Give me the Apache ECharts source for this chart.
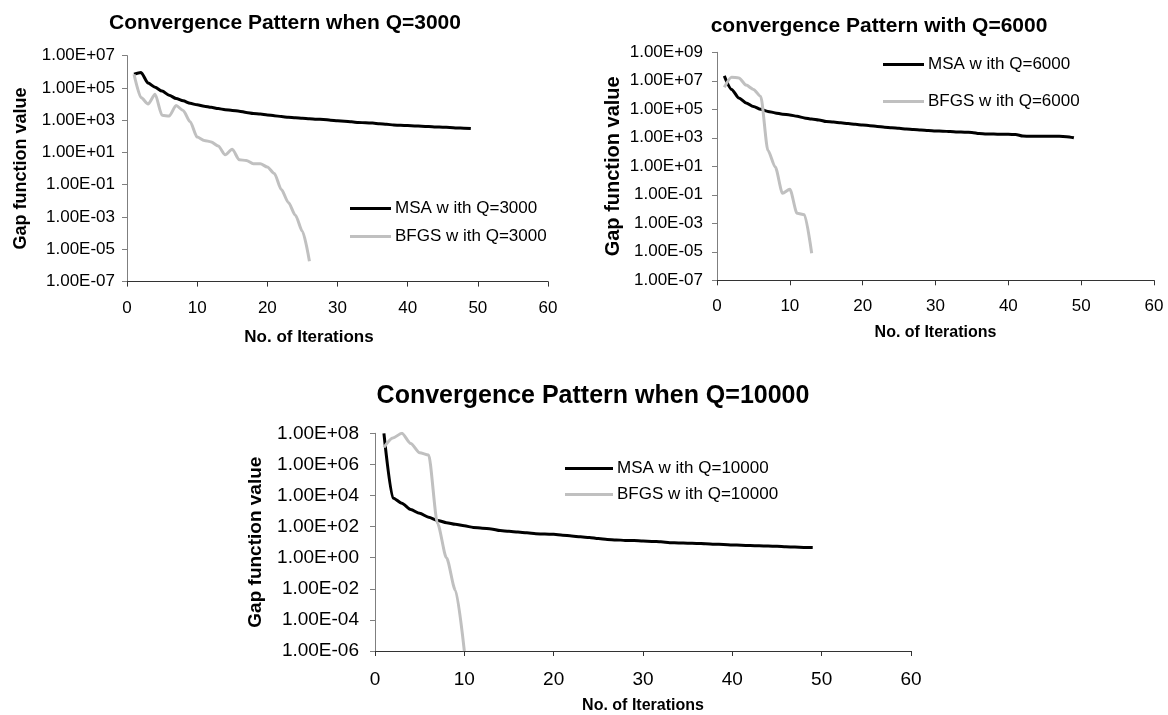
<!DOCTYPE html>
<html>
<head>
<meta charset="utf-8">
<script src="https://cdn.jsdelivr.net/npm/echarts@6/dist/echarts.min.js"></script>
<style>
  html, body { margin: 0; padding: 0; background: #ffffff; }
  #chart { width: 1168px; height: 715px; }
</style>
</head>
<body>
<div id="chart"></div>
<script>
// Gap function value per iteration (iteration numbers start at 1)
const msa3000 = [7.0e5, 8.9e5, 2.0e5, 1.1e5, 6.3e4, 3.5e4, 2.2e4, 1.6e4, 1.1e4, 8.9e3,
  7.4e3, 6.3e3, 5.2e3, 4.5e3, 4.0e3, 3.6e3, 3.0e3, 2.6e3, 2.4e3, 2.1e3,
  1.9e3, 1.66e3, 1.51e3, 1.41e3, 1.32e3, 1.23e3, 1.15e3, 1.1e3, 1.0e3, 910,
  870, 790, 720, 690, 660, 600, 560, 500, 480, 460,
  440, 420, 400, 380, 370, 355, 330, 316, 300];
const bfgs3000 = [7.0e5, 2.5e4, 1.0e4, 4.0e4, 2.0e3, 1.8e3, 8.0e3, 4.0e3, 800, 90,
  56, 45, 25, 7.1, 16, 3.5, 3.2, 2.0, 2.0, 1.26,
  0.5, 0.05, 8e-3, 1.3e-3, 1.3e-4, 1.8e-6];

const msa6000 = [2.2e7, 2.5e6, 6.3e5, 2.8e5, 1.6e5, 1.0e5, 7.1e4, 5.6e4, 4.5e4, 4.0e4,
  3.2e4, 2.5e4, 2.1e4, 1.8e4, 1.4e4, 1.26e4, 1.12e4, 1.0e4, 8.9e3, 7.9e3,
  7.1e3, 6.3e3, 5.6e3, 5.0e3, 4.6e3, 4.2e3, 3.8e3, 3.5e3, 3.2e3, 3.0e3,
  2.9e3, 2.75e3, 2.6e3, 2.5e3, 2.4e3, 2.0e3, 1.86e3, 1.82e3, 1.78e3, 1.74e3,
  1.7e3, 1.32e3, 1.26e3, 1.26e3, 1.26e3, 1.26e3, 1.26e3, 1.2e3, 1.0e3];
const bfgs6000 = [3.5e6, 1.8e7, 1.6e7, 5.0e6, 2.5e6, 8.0e5, 126, 8.9, 0.126, 0.25,
  5e-3, 4e-3, 8e-6];

const msa10000 = [1.0e8, 7.0e3, 3.2e3, 1.26e3, 710, 400, 250, 180, 140, 112,
  89, 79, 71, 56, 50, 45, 40, 35, 33, 32,
  28, 25, 22, 20, 17, 15, 14, 13, 12.6, 11.7,
  11.2, 10.5, 9.3, 8.9, 8.5, 8.3, 7.9, 7.4, 7.1, 6.6,
  6.3, 6.0, 5.8, 5.6, 5.4, 5.0, 4.8, 4.6, 4.5];
const bfgs10000 = [1.26e7, 5.0e7, 1.0e8, 2.2e7, 5.6e6, 4.0e6, 160, 1.0, 8e-3, 1.0e-6];

// Axis ranges (log10 exponents for the value axes)
const iterTicks = { min: 0, max: 60, step: 10 };
const gapExp3000 = { min: -7, max: 7, step: 2 };
const gapExp6000 = { min: -7, max: 9, step: 2 };
const gapExp10000 = { min: -6, max: 8, step: 2 };

const chartTitles = [
  'Convergence Pattern when Q=3000',
  'convergence Pattern with Q=6000',
  'Convergence Pattern when Q=10000'
];
const seriesNames = [
  ['MSA w ith Q=3000', 'BFGS w ith Q=3000'],
  ['MSA w ith Q=6000', 'BFGS w ith Q=6000'],
  ['MSA w ith Q=10000', 'BFGS w ith Q=10000']
];
const xName = 'No. of Iterations';
const yName = 'Gap function value';

const FONT = '"Liberation Sans", Arial, Helvetica, sans-serif';
const MSA_COLOR = '#000000';
const BFGS_COLOR = '#c0c0c0';

function pairs(values) {
  return values.map((v, i) => [i + 1, v]);
}

function sciLabel(v) {
  const e = Math.round(Math.log10(v));
  const s = e < 0 ? '-' : '+';
  const a = Math.abs(e);
  return '1.00E' + s + (a < 10 ? '0' + a : String(a));
}

function xAxisFor(idx, cfg) {
  return {
    type: 'value', gridIndex: idx,
    min: iterTicks.min, max: iterTicks.max, interval: iterTicks.step,
    name: xName, nameLocation: 'middle', nameGap: cfg.nameGap,
    nameTextStyle: { fontFamily: FONT, fontWeight: 'bold', fontSize: cfg.nameSize, color: '#000', padding: cfg.namePad },
    axisLine: { lineStyle: { color: '#333333', width: 1 } },
    axisTick: { show: true, inside: false, length: 5, lineStyle: { color: '#333333' } },
    axisLabel: { fontFamily: FONT, fontSize: cfg.labelSize, color: '#000', margin: cfg.labelMargin },
    splitLine: { show: false }
  };
}

function yAxisFor(idx, exp, cfg) {
  return {
    type: 'log', logBase: 10, gridIndex: idx,
    min: Math.pow(10, exp.min), max: Math.pow(10, exp.max), interval: exp.step,
    name: yName, nameLocation: 'middle', nameGap: cfg.nameGap, nameRotate: 90,
    nameTextStyle: { fontFamily: FONT, fontWeight: 'bold', fontSize: cfg.nameSize, color: '#000' },
    axisLine: { show: true, lineStyle: { color: '#7f7f7f', width: 1 } },
    axisTick: { show: true, inside: false, length: 5, lineStyle: { color: '#7f7f7f' } },
    axisLabel: { fontFamily: FONT, fontSize: cfg.labelSize, color: '#000', margin: cfg.labelMargin, formatter: sciLabel },
    splitLine: { show: false },
    minorTick: { show: false }
  };
}

function lineSeries(name, values, color, idx) {
  return {
    type: 'line', name: name, data: pairs(values),
    xAxisIndex: idx, yAxisIndex: idx,
    showSymbol: false, symbol: 'none',
    smooth: 0.25, smoothMonotone: 'x',
    lineStyle: { color: color, width: 3 },
    itemStyle: { color: color },
    emphasis: { disabled: true },
    clip: true
  };
}

function legendFor(idx, left, top, gap, lineLen) {
  return {
    data: seriesNames[idx], left: left, top: top, orient: 'vertical', padding: 0,
    itemGap: gap, icon: 'rect', itemWidth: lineLen, itemHeight: 3,
    selectedMode: false,
    textStyle: { fontFamily: FONT, fontSize: 17, color: '#000', padding: [0, 0, 0, -1] }
  };
}

function titleText(text, x, y, size) {
  return {
    type: 'text', x: x, y: y, silent: true,
    style: { text: text, font: 'bold ' + size + 'px ' + FONT, fill: '#000', align: 'center', verticalAlign: 'middle' }
  };
}

const chart = echarts.init(document.getElementById('chart'), null, { renderer: 'canvas' });
chart.setOption({
  animation: false,
  backgroundColor: '#ffffff',
  graphic: [
    titleText(chartTitles[0], 285, 23, 21),
    titleText(chartTitles[1], 879, 26, 21),
    titleText(chartTitles[2], 593, 396, 25)
  ],
  grid: [
    { left: 127, top: 55.6, width: 421, height: 226 },
    { left: 717, top: 52.3, width: 437, height: 228 },
    { left: 375, top: 433.3, width: 536, height: 219 }
  ],
  xAxis: [
    xAxisFor(0, { nameGap: 47, nameSize: 17, namePad: [0, 57, 0, 0], labelSize: 17, labelMargin: 18 }),
    xAxisFor(1, { nameGap: 44, nameSize: 16, namePad: 0, labelSize: 17, labelMargin: 18 }),
    xAxisFor(2, { nameGap: 47, nameSize: 16, namePad: 0, labelSize: 19, labelMargin: 19 })
  ],
  yAxis: [
    yAxisFor(0, gapExp3000, { nameGap: 97, nameSize: 18, labelSize: 17, labelMargin: 12 }),
    yAxisFor(1, gapExp6000, { nameGap: 94, nameSize: 20, labelSize: 17, labelMargin: 14 }),
    yAxisFor(2, gapExp10000, { nameGap: 110, nameSize: 19, labelSize: 19, labelMargin: 16 })
  ],
  legend: [
    legendFor(0, 350, 200, 11, 41),
    legendFor(1, 883, 56, 20, 41),
    legendFor(2, 565, 460, 9, 48)
  ],
  series: [
    lineSeries(seriesNames[0][0], msa3000, MSA_COLOR, 0),
    lineSeries(seriesNames[0][1], bfgs3000, BFGS_COLOR, 0),
    lineSeries(seriesNames[1][0], msa6000, MSA_COLOR, 1),
    lineSeries(seriesNames[1][1], bfgs6000, BFGS_COLOR, 1),
    lineSeries(seriesNames[2][0], msa10000, MSA_COLOR, 2),
    lineSeries(seriesNames[2][1], bfgs10000, BFGS_COLOR, 2)
  ]
});
</script>
</body>
</html>
